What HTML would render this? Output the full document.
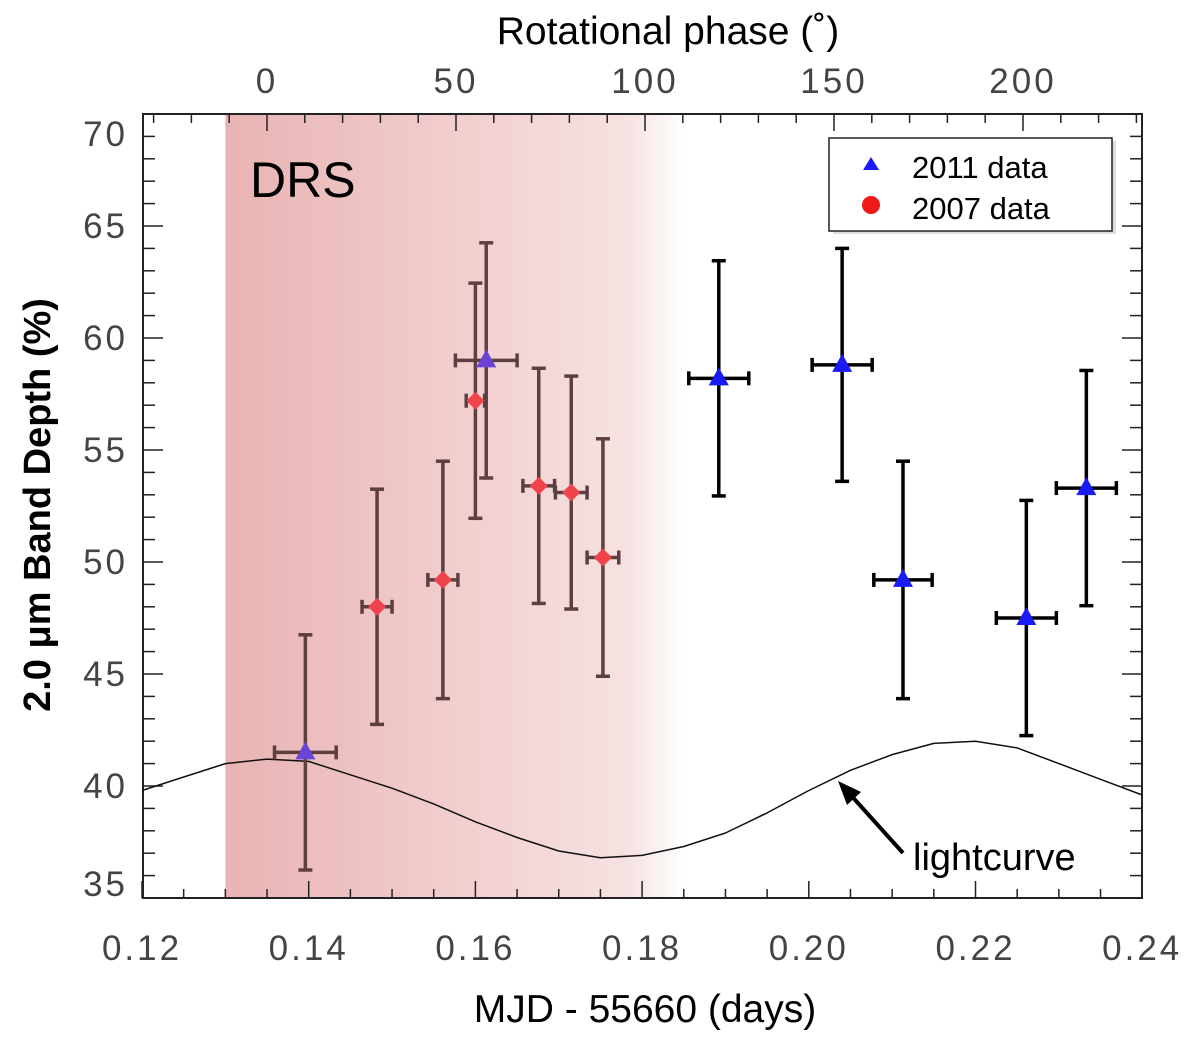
<!DOCTYPE html>
<html><head><meta charset="utf-8"><style>
body{margin:0;background:#fff}
svg text{font-family:"Liberation Sans",sans-serif}
</style></head><body>
<svg id="chart" width="1200" height="1038" viewBox="0 0 1200 1038" xmlns="http://www.w3.org/2000/svg">
<defs>
<linearGradient id="shade" x1="0" x2="1" y1="0" y2="0">
<stop offset="0" stop-color="#e9b3b3"/>
<stop offset="0.6" stop-color="#f3d3d3"/>
<stop offset="0.88" stop-color="#f6e2e2"/>
<stop offset="1" stop-color="#ffffff"/>
</linearGradient>
</defs>
<g id="plot"></g>
</svg>
<script>
// ---- data ----
const years2011X = [0.1396, 0.1613, 0.1892, 0.2040, 0.2113, 0.2261, 0.2333];
const years2011Y = [41.5, 59.0, 58.2, 58.8, 49.2, 47.5, 53.3];
const years2011Err = [5.25, 5.25, 5.25, 5.2, 5.3, 5.25, 5.25];
const years2011XErr = [0.0037, 0.0037, 0.0036, 0.0036, 0.0035, 0.0036, 0.0036];
const years2011Shaded = [true, true, false, false, false, false, false];
const years2007X = [0.1482, 0.1561, 0.1600, 0.1676, 0.1715, 0.1753];
const years2007Y = [48.0, 49.2, 57.2, 53.4, 53.1, 50.2];
const years2007Err = [5.25, 5.3, 5.25, 5.25, 5.2, 5.3];
const years2007XErr = [0.0018, 0.0018, 0.0011, 0.0019, 0.0019, 0.0019];
const lightX = [0.12,0.125,0.13,0.135,0.14,0.145,0.15,0.155,0.16,0.165,0.17,0.175,0.18,0.185,0.19,0.195,0.20,0.205,0.21,0.215,0.22,0.225,0.23,0.235,0.24];
const lightY = [39.8,40.4,41.0,41.2,41.1,40.5,39.9,39.2,38.4,37.7,37.1,36.8,36.9,37.3,37.9,38.8,39.8,40.7,41.4,41.9,42.0,41.7,41.0,40.3,39.6];
const xTicks = [0.12,0.14,0.16,0.18,0.20,0.22,0.24];
const xTickLabels = ["0.12","0.14","0.16","0.18","0.20","0.22","0.24"];
const yTicks = [35,40,45,50,55,60,65,70];
const phaseTicks = [0,50,100,150,200];
const shadeStart = 0.13;

// ---- axes ----
const L=143, R=1142, T=114, B=898;
const X = v => 142 + (v-0.12)/0.02*166.7;
const Y = v => 898 - (v-35)*22.4;
const P = d => 267 + d*3.78;
const NS="http://www.w3.org/2000/svg";
const g=document.getElementById('plot');
function mk(tag, attrs, parent){const e=document.createElementNS(NS,tag);for(const k in attrs)e.setAttribute(k,attrs[k]);(parent||g).appendChild(e);return e;}

const sh=mk('rect',{x:X(shadeStart),y:T,width:X(0.185)-X(shadeStart),height:B-T,fill:'url(#shade)'});



const fr=mk('rect',{x:L,y:T,width:R-L,height:B-T,fill:'none',stroke:'#222','stroke-width':2});



for(let v=0.12; v<=0.2401; v+=0.005){
  const k=Math.round(v*1000)%20;
  const major=(k===0);
  const x=X(v); const len=major?17:9;
  mk('line',{x1:x,x2:x,y1:B,y2:B-len,stroke:'#222','stroke-width':1.5});
}
xTicks.forEach((v,i)=>{
  const t=mk('text',{x:X(v),y:960,'text-anchor':'middle','font-size':35,fill:'#444','letter-spacing':'3'});
  t.textContent=xTickLabels[i];
  
  
});
for(let d=-30; d<=230; d+=10){
  const x=P(d); if(x<L||x>R) continue;
  const len=(d%50===0)?17:9;
  mk('line',{x1:x,x2:x,y1:T,y2:T+len,stroke:'#222','stroke-width':1.5});
}
phaseTicks.forEach(d=>{
  const t=mk('text',{x:P(d),y:93,'text-anchor':'middle','font-size':35,fill:'#444','letter-spacing':'3'});
  t.textContent=String(d);
  
  
});
for(let v=35; v<=70; v++){
  const y=Y(v); const len=(v%5===0)?20:12;
  mk('line',{x1:L,x2:L+len,y1:y,y2:y,stroke:'#222','stroke-width':1.5});
  mk('line',{x1:R,x2:R-len,y1:y,y2:y,stroke:'#222','stroke-width':1.5});
}
yTicks.forEach(v=>{
  const yy = v===70 ? Y(v)+32 : (v===35 ? Y(v)-2 : Y(v)+12);
  const t=mk('text',{x:128,y:yy,'text-anchor':'end','font-size':35,fill:'#444','letter-spacing':'3'});
  t.textContent=String(v);
  
  
});

let d='';
lightX.forEach((v,i)=>{d+=(i?'L':'M')+X(v).toFixed(1)+','+Y(lightY[i]).toFixed(1);});
const lc=mk('path',{d:d,fill:'none',stroke:'#111','stroke-width':1.5,'stroke-linejoin':'round'});



function errbar(x,y,ex,ey,col){
  const cx=X(x), cy=Y(y);
  const grp=mk('g',{stroke:col,'stroke-width':3.5});
  mk('line',{x1:cx,x2:cx,y1:Y(y+ey),y2:Y(y-ey)},grp);
  mk('line',{x1:cx-7,x2:cx+7,y1:Y(y+ey),y2:Y(y+ey)},grp);
  mk('line',{x1:cx-7,x2:cx+7,y1:Y(y-ey),y2:Y(y-ey)},grp);
  mk('line',{x1:X(x-ex),x2:X(x+ex),y1:cy,y2:cy},grp);
  mk('line',{x1:X(x-ex),x2:X(x-ex),y1:cy-7,y2:cy+7},grp);
  mk('line',{x1:X(x+ex),x2:X(x+ex),y1:cy-7,y2:cy+7},grp);
  return grp;
}
years2007X.forEach((x,i)=>{
  const eb=errbar(x,years2007Y[i],years2007XErr[i],years2007Err[i],'#5e3f3f');
  
  
  const cx=X(x), cy=Y(years2007Y[i]);
  const m=mk('polygon',{points:`${cx},${cy-9} ${cx+9},${cy} ${cx},${cy+9} ${cx-9},${cy}`,fill:'#f0444c'});
  
  
});
years2011X.forEach((x,i)=>{
  const sh=years2011Shaded[i];
  const eb=errbar(x,years2011Y[i],years2011XErr[i],years2011Err[i],sh?'#5e3f3f':'#000');
  
  
  const cx=X(x), cy=Y(years2011Y[i]);
  const m=mk('polygon',{points:`${cx},${cy-11} ${cx+10},${cy+7} ${cx-10},${cy+7}`,fill:sh?'#6a44d4':'#1a1af2'});
  
  
});
</script>
<svg style="position:absolute;left:0;top:0" width="1200" height="1038">
<text x="250" y="197" font-size="50" font-family="Liberation Sans, sans-serif" fill="#000">DRS</text>
<g>
<rect x="833" y="141" width="283" height="93" fill="#ddd" />
<rect x="829" y="138" width="283" height="93" fill="#fff" stroke="#222" stroke-width="1.5"/>
<polygon points="871,157 879,170 863,170" fill="#1a1af2"/>
<text x="912" y="178" font-size="31" font-family="Liberation Sans, sans-serif">2011 data</text>
<circle cx="871" cy="205" r="9" fill="#f01818"/>
<text x="912" y="219" font-size="31" font-family="Liberation Sans, sans-serif">2007 data</text>
</g>
<g>
<line x1="903" y1="853" x2="848" y2="792" stroke="#000" stroke-width="4"/>
<polygon points="838,781 861,792 847,805" fill="#000"/>
</g>
<text x="913" y="870" font-size="38" font-family="Liberation Sans, sans-serif">lightcurve</text>
<text x="668" y="44" text-anchor="middle" font-size="39" font-family="Liberation Sans, sans-serif">Rotational phase (˚)</text>
<text x="645" y="1022" text-anchor="middle" font-size="39" font-family="Liberation Sans, sans-serif">MJD - 55660 (days)</text>
<text transform="translate(50,505) rotate(-90)" text-anchor="middle" font-size="38" font-weight="bold" font-family="Liberation Sans, sans-serif">2.0 μm Band Depth (%)</text>
</svg>
</body></html>
